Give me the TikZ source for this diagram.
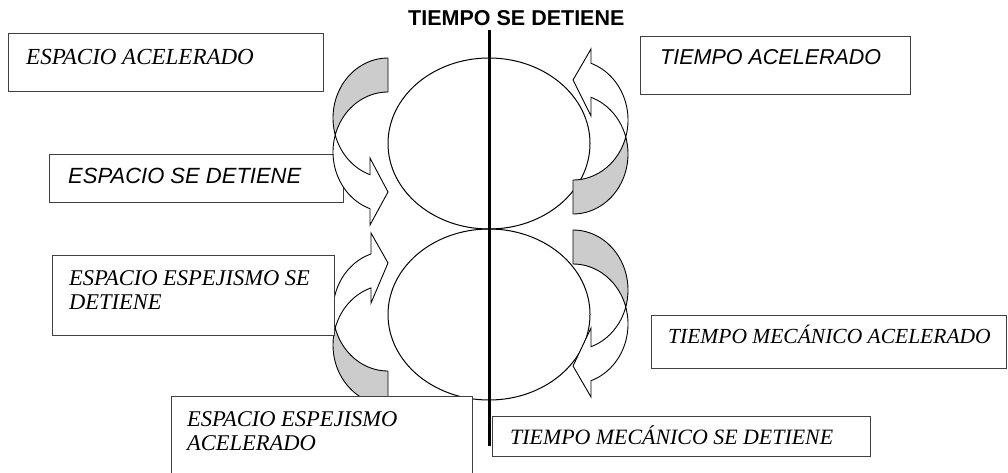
\documentclass[tikz,border=0pt]{standalone}
\usepackage{fontspec}
\setmainfont{Liberation Serif}
\setsansfont{Liberation Sans}
\usetikzlibrary{shapes.geometric}
\definecolor{backgray}{HTML}{CCCCCC}
\definecolor{boxline}{HTML}{404040}
\begin{document}
\begin{tikzpicture}[x=1pt,y=-1pt,
  box/.style={draw=boxline, line width=1.2pt, fill=white, rectangle, anchor=north west, inner sep=0pt},
  serif/.style={inner sep=0pt, font=\fontsize{22.5}{24.5}\selectfont\rmfamily\itshape},
  sansit/.style={inner sep=0pt, font=\fontsize{21.5}{24}\selectfont\sffamily\itshape},
  ring/.style={draw=black, line width=1pt, ellipse, inner sep=0pt},
  back/.style={draw=black, line width=0.9pt, fill=backgray, line join=round},
  front/.style={draw=black, line width=0.9pt, fill=white, line join=miter},
  axis/.style={draw=black, line width=3pt}
]
\useasboundingbox (0,0) rectangle (1008,472);
\clip (0,0) rectangle (1008,472);

% title
\node[anchor=base west, inner sep=0pt, font=\fontsize{21.5}{24}\selectfont\sffamily\bfseries] (title) at (408,25) {TIEMPO SE DETIENE};

% two ellipses
\node[ring, minimum width=202pt, minimum height=171pt] (etop) at (489,143.5) {};
\node[ring, minimum width=202pt, minimum height=171pt] (ebot) at (489,314.5) {};

% vertical axis
\coordinate (vtop) at (489,30);
\coordinate (vbot) at (489,446);
\draw[axis] (vtop) -- (vbot);

% box behind the left-top arrow
\node[box, minimum width=294pt, minimum height=48pt] (b3) at (49,154) {};
\node[sansit, anchor=base west, font=\fontsize{22}{24}\selectfont\sffamily\itshape] (t3) at (68,183) {ESPACIO SE DETIENE};

% left-top curved arrow
\filldraw[back] plot[domain=270:163.6, samples=40] ({388+55*cos(\x)},{118+60*sin(\x)})
  -- plot[domain=196.4:270, samples=40] ({388+55*cos(\x)},{152+60*sin(\x)}) -- cycle;
\filldraw[front] plot[domain=196.4:109.1, samples=40] ({388+55*cos(\x)},{152+60*sin(\x)})
  -- (370,225) -- (388,192) -- (370,158)
  -- plot[domain=109.1:163.6, samples=30] ({388+55*cos(\x)},{118+60*sin(\x)}) -- cycle;

% left-bottom curved arrow
\filldraw[back] plot[domain=90:196.4, samples=40] ({388+55*cos(\x)},{345+60*sin(\x)})
  -- plot[domain=163.6:90, samples=40] ({388+55*cos(\x)},{311+60*sin(\x)}) -- cycle;
\filldraw[front] plot[domain=196.4:252, samples=30] ({388+55*cos(\x)},{345+60*sin(\x)})
  -- (371,303) -- (388,263) -- (371,233)
  -- plot[domain=252:163.6, samples=40] ({388+55*cos(\x)},{311+60*sin(\x)}) -- cycle;

% right-top curved arrow
\filldraw[back] plot[domain=90:-16.4, samples=40] ({573+55*cos(\x)},{154+60*sin(\x)})
  -- plot[domain=16.4:90, samples=40] ({573+55*cos(\x)},{120+60*sin(\x)}) -- cycle;
\filldraw[front] plot[domain=16.4:-70.9, samples=40] ({573+55*cos(\x)},{120+60*sin(\x)})
  -- (591,49) -- (573,80) -- (591,116)
  -- plot[domain=-70.9:-16.4, samples=30] ({573+55*cos(\x)},{154+60*sin(\x)}) -- cycle;

% right-bottom curved arrow
\filldraw[back] plot[domain=-90:16.4, samples=40] ({573+55*cos(\x)},{290+60*sin(\x)})
  -- plot[domain=-16.4:-90, samples=40] ({573+55*cos(\x)},{324+60*sin(\x)}) -- cycle;
\filldraw[front] plot[domain=16.4:70.9, samples=30] ({573+55*cos(\x)},{290+60*sin(\x)})
  -- (591,328) -- (573,366) -- (591,397)
  -- plot[domain=70.9:-16.4, samples=40] ({573+55*cos(\x)},{324+60*sin(\x)}) -- cycle;

% boxes
\node[box, minimum width=315pt, minimum height=58pt] (b1) at (8,33) {};
\node[serif, anchor=base west, font=\fontsize{23}{24}\selectfont\rmfamily\itshape] (t1) at (26,64) {ESPACIO ACELERADO};

\node[box, minimum width=270pt, minimum height=58pt] (b2) at (640,36) {};
\node[sansit, anchor=base west] (t2) at (660,64) {TIEMPO ACELERADO};

\node[box, minimum width=282pt, minimum height=80pt] (b4) at (52,255) {};
\node[serif, anchor=north west, align=left] (t4) at (69,270) {ESPACIO ESPEJISMO SE\\DETIENE};

\node[box, minimum width=355pt, minimum height=53pt] (b5) at (651,315) {};
\node[serif, anchor=base west, font=\fontsize{21.5}{24}\selectfont\rmfamily\itshape] (t5) at (668,343) {TIEMPO MECÁNICO ACELERADO};

\node[box, minimum width=378pt, minimum height=40pt] (b6) at (492,416) {};
\node[serif, anchor=base west, font=\fontsize{21.9}{24}\selectfont\rmfamily\itshape] (t6) at (510,444) {TIEMPO MECÁNICO SE DETIENE};

\node[box, minimum width=301pt, minimum height=94pt] (b7) at (171,396) {};
\node[serif, anchor=north west, align=left] (t7) at (187,411) {ESPACIO ESPEJISMO\\ACELERADO};
\end{tikzpicture}
\end{document}
